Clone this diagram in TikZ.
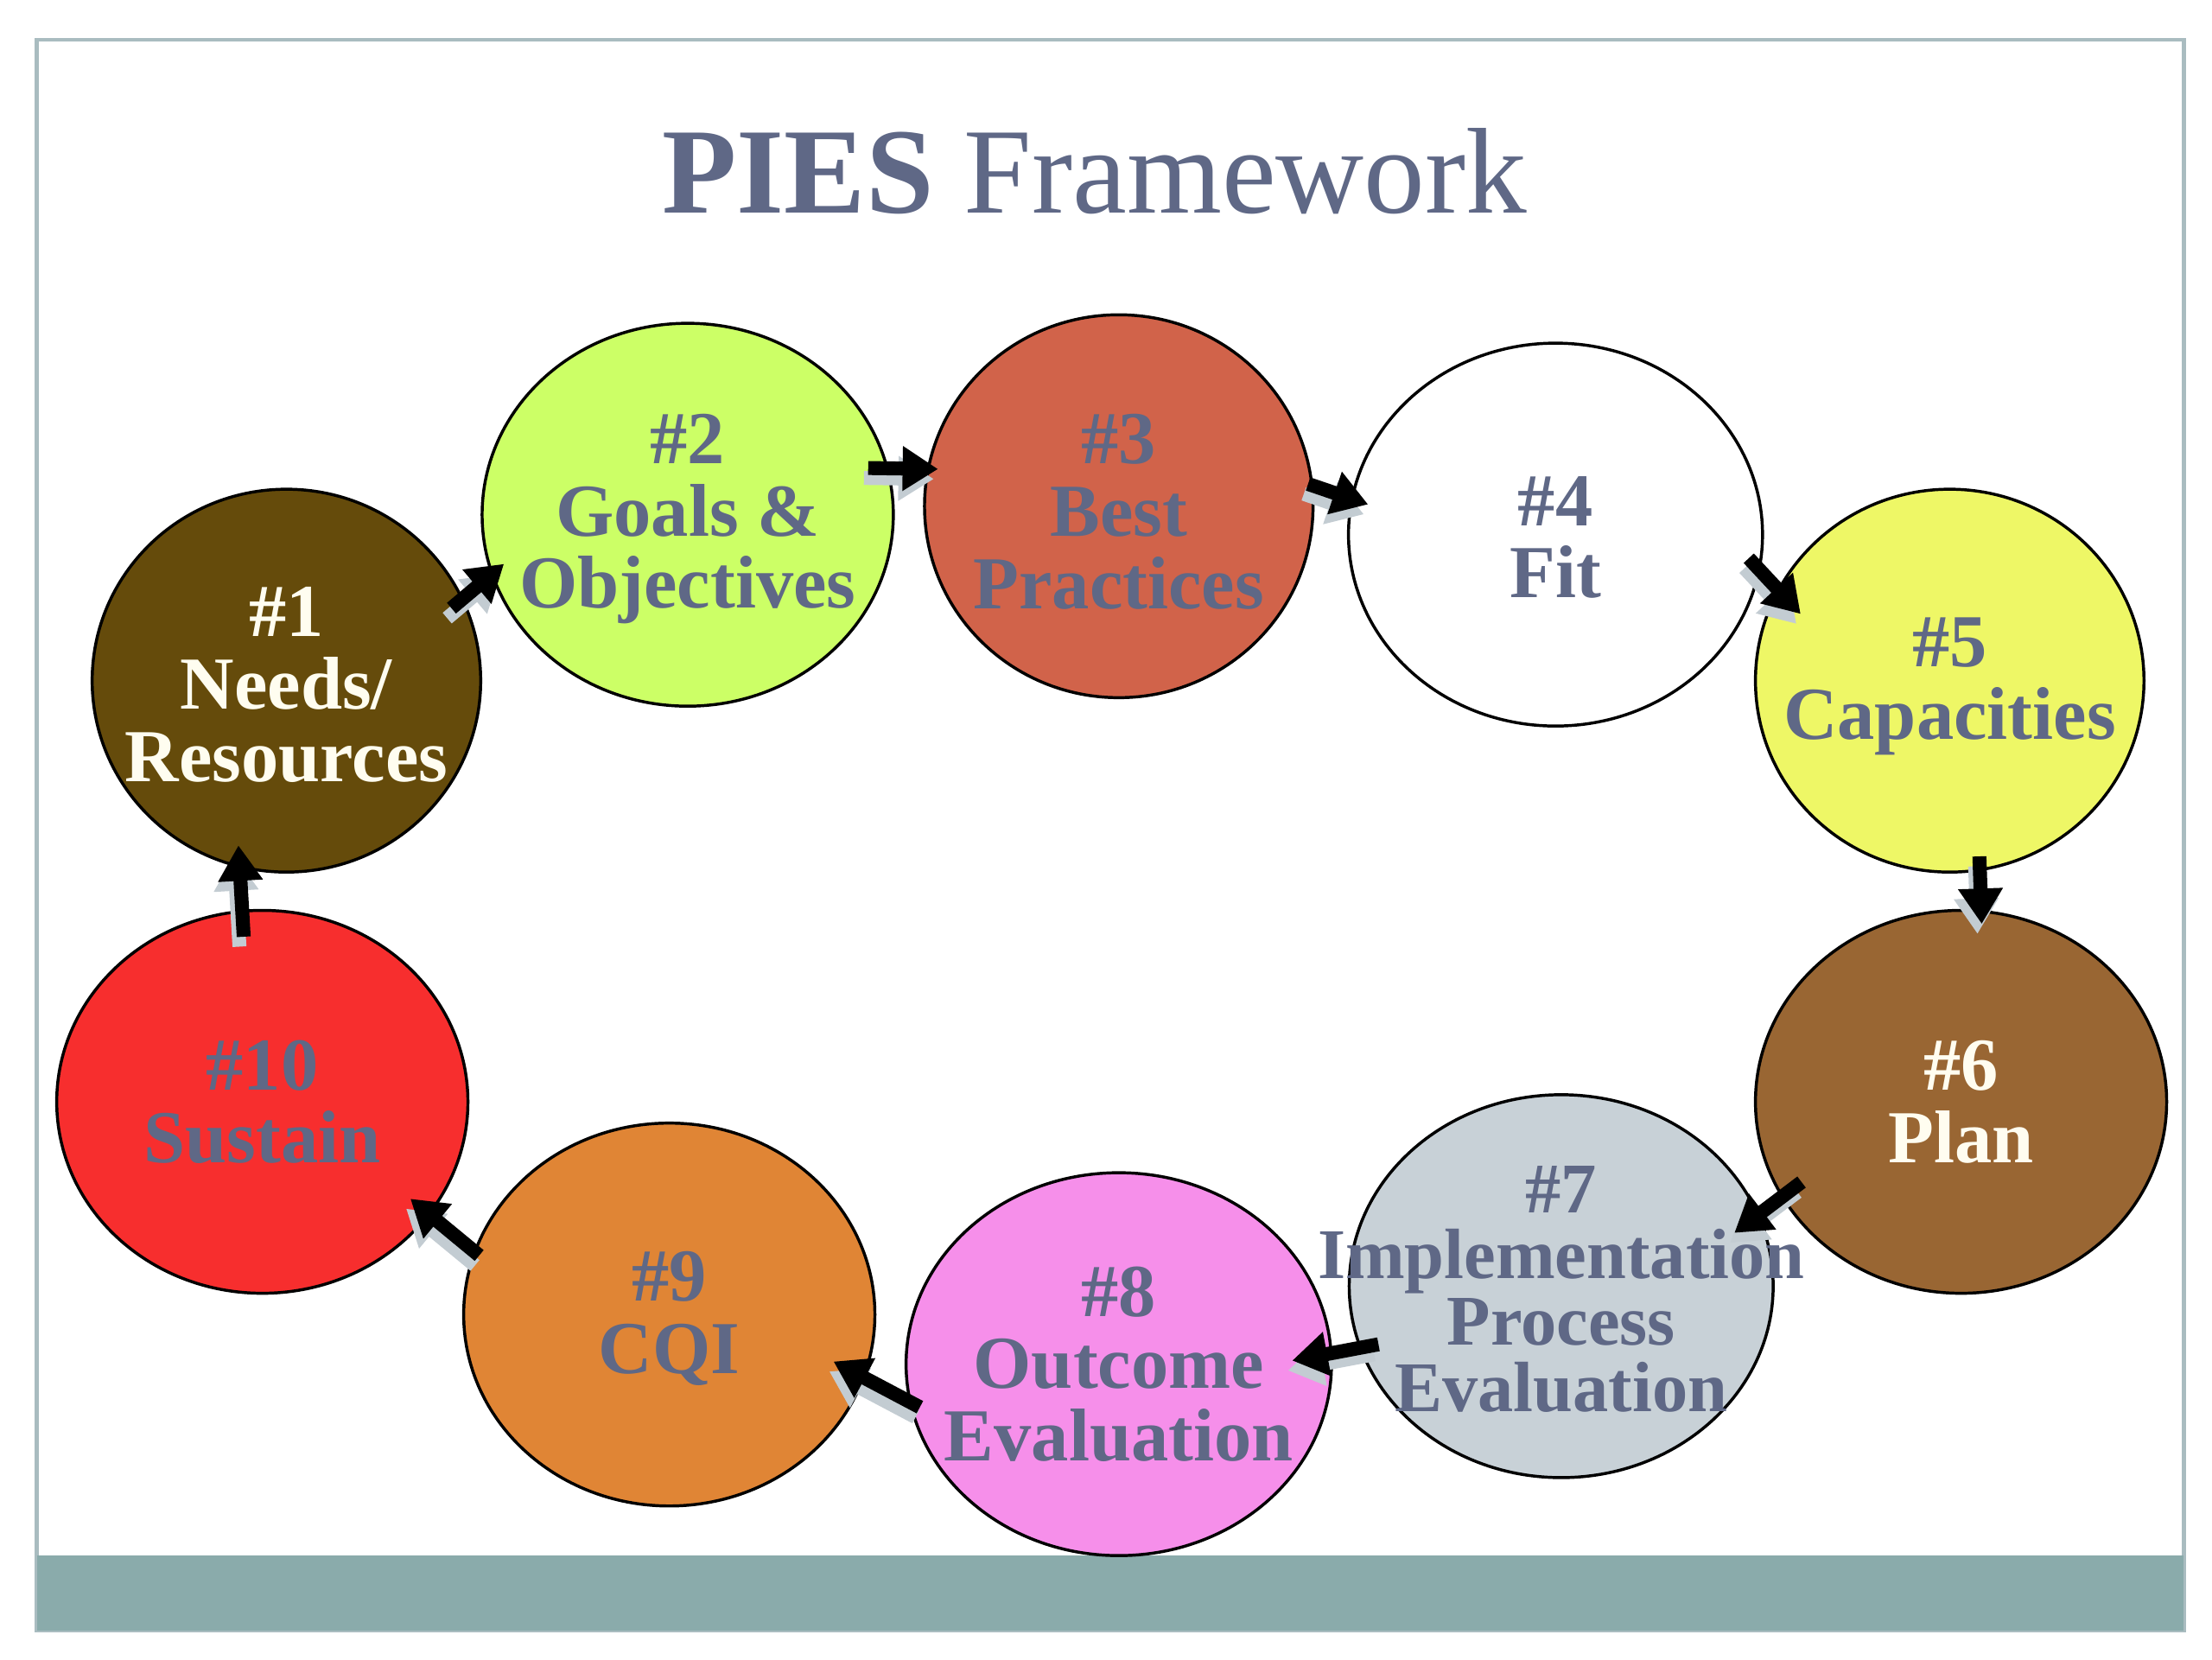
\documentclass[tikz,border=0pt]{standalone}
\usepackage{fontspec}
\setmainfont{Liberation Serif}
\usetikzlibrary{shapes.geometric}
\usetikzlibrary{arrows.meta}

\definecolor{slate}{HTML}{5F6886}
\definecolor{cream}{HTML}{FFFDF0}
\definecolor{framecol}{HTML}{A9BCC0}
\definecolor{bandcol}{HTML}{8AABAB}
\definecolor{shadowcol}{HTML}{C3CCD2}
\definecolor{c1}{HTML}{654B0B}
\definecolor{c2}{HTML}{CCFF66}
\definecolor{c3}{HTML}{D1634A}
\definecolor{c4}{HTML}{FFFFFF}
\definecolor{c5}{HTML}{EEF766}
\definecolor{c6}{HTML}{996633}
\definecolor{c7}{HTML}{C8D1D7}
\definecolor{c8}{HTML}{F68FEA}
\definecolor{c9}{HTML}{E08535}
\definecolor{c10}{HTML}{F72E2E}

\begin{document}
\begin{tikzpicture}[>=Triangle, every node/.style={font=\fontsize{15}{14.5}\selectfont\bfseries}]
  % circle and label styles
  \tikzset{stage/.style={ellipse, draw=black, line width=0.6pt, inner sep=0pt, minimum height=2.7cm}}
  \tikzset{lbl/.style={align=center, text=slate}}
  \tikzset{flow/.style={line width=2.8pt, -{Triangle[length=0.25cm, width=0.30cm]},
      preaction={draw=shadowcol, line width=2.8pt, -{Triangle[length=0.25cm, width=0.30cm]},
      transform canvas={shift={(-0.03,-0.07)}}}}}
  \useasboundingbox (0,0) rectangle (15.6,11.7);

  % slide frame and bottom band
  \draw[framecol, line width=0.8pt] (0.26,0.20) rectangle (15.40,11.42);
  \fill[bandcol] (0.26,0.20) rectangle (15.40,0.73);

  % title
  \node[anchor=base, text=slate, font=\fontsize{24.5}{28}\selectfont] (title) at (7.72,10.20) {\textbf{PIES} Framework};

  % the ten stages, clockwise
  \node[stage, fill=c1, minimum width=2.74cm] (n1) at (2.02,6.90) {};
  \node[stage, fill=c2, minimum width=2.90cm] (n2) at (4.85,8.07) {};
  \node[stage, fill=c3, minimum width=2.74cm] (n3) at (7.89,8.13) {};
  \node[stage, fill=c4, minimum width=2.92cm] (n4) at (10.97,7.93) {};
  \node[stage, fill=c5, minimum width=2.74cm] (n5) at (13.75,6.90) {};
  \node[stage, fill=c6, minimum width=2.90cm] (n6) at (13.83,3.93) {};
  \node[stage, fill=c7, minimum width=2.99cm] (n7) at (11.01,2.63) {};
  \node[stage, fill=c8, minimum width=3.00cm] (n8) at (7.89,2.08) {};
  \node[stage, fill=c9, minimum width=2.90cm] (n9) at (4.72,2.43) {};
  \node[stage, fill=c10, minimum width=2.90cm] (n10) at (1.85,3.93) {};

  % arrows between stages (grey shadow under each)
  \draw[flow, shorten <=-0.11cm, shorten >=-0.12cm] (n1.25) -- (n2.197);
  \draw[flow, shorten <=-0.145cm, shorten >=-0.08cm] (n2.13) -- (n3.169);
  \draw[flow, shorten <=-0.04cm, shorten >=-0.13cm] (n3.6) -- (n4.170);
  \draw[flow, shorten <=-0.12cm, shorten >=-0.24cm] (n4.-10) -- (n5.152);
  \draw[flow, shorten <=-0.105cm, shorten >=-0.10cm] (n5.-81) -- (n6.84);
  \draw[flow, shorten <=-0.18cm, shorten >=-0.22cm] (n6.208) -- (n7.20);
  \draw[flow, shorten <=-0.14cm, shorten >=-0.29cm] (n7.197) -- (n8.3);
  \draw[flow, shorten <=-0.09cm, shorten >=-0.25cm] (n8.190) -- (n9.-18);
  \draw[flow, shorten <=-0.05cm, shorten >=-0.18cm] (n9.162) -- (n10.-34);
  \draw[flow, shorten <=-0.19cm, shorten >=-0.16cm] (n10.96) -- (n1.-104);

  % stage texts on top
  \node[lbl, text=cream] (t1) at ([yshift=-0.03cm]n1) {\#1\\Needs/\\Resources};
  \node[lbl] (t2) at ([yshift=-0.03cm]n2) {\#2\\Goals \&\\Objectives};
  \node[lbl] (t3) at ([yshift=-0.04cm]n3) {\#3\\Best\\Practices};
  \node[lbl] (t4) at ([yshift=-0.02cm]n4) {\#4\\Fit};
  \node[lbl] (t5) at ([yshift=-0.04cm]n5) {\#5\\Capacities};
  \node[lbl, text=cream] (t6) at (n6) {\#6\\Plan};
  \node[lbl, font=\fontsize{14.3}{13.3}\selectfont\bfseries] (t7) at ([yshift=-0.02cm]n7) {\#7\\Implementation\\Process\\Evaluation};
  \node[lbl] (t8) at (n8) {\#8\\Outcome\\Evaluation};
  \node[lbl] (t9) at ([yshift=-0.03cm]n9) {\#9\\CQI};
  \node[lbl] (t10) at (n10) {\#10\\Sustain};
\end{tikzpicture}
\end{document}
